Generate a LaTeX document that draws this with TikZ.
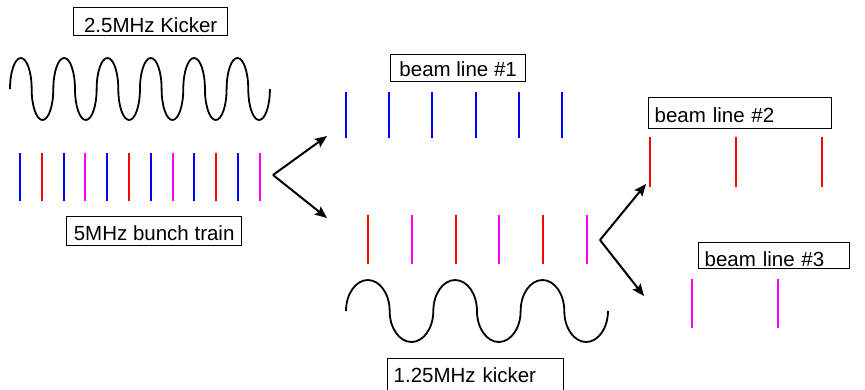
\documentclass[tikz,border=0pt]{standalone}
\usepackage{fontspec}
\setmainfont{Liberation Sans}
\usetikzlibrary{arrows.meta}

\definecolor{bunchB}{RGB}{0,0,255}
\definecolor{bunchR}{RGB}{255,0,0}
\definecolor{bunchM}{RGB}{255,0,255}

\begin{document}
\begin{tikzpicture}[
  x=1pt, y=-1pt,
  >={Stealth[length=12pt, width=10pt, inset=2pt]},
  every node/.style={font=\fontsize{20.5}{24}\selectfont},
  tag/.style={draw, line width=1.3pt, anchor=north west, inner ysep=0pt,
              text height=19pt, text depth=0pt},
  tagL/.style={tag, inner xsep=6pt, align=left, text width=#1},
  bunch/.style={line width=2pt},
  wave/.style={line width=1.8pt},
  kick/.style={->, line width=2pt},
]
\useasboundingbox (0,0) rectangle (865,389);

% labels
\node[tag, minimum width=154pt, minimum height=28pt, text height=22pt] (kickA) at (73,7) {2.5MHz Kicker};
\node[tag, minimum width=175pt, minimum height=29pt] (train) at (66,216) {5MHz bunch train};
\node[tag, minimum width=135pt, minimum height=27pt, text height=17pt] (line1) at (390,54) {beam line \#1};
\node[tagL=171pt, minimum height=31pt] (line2) at (648,97) {beam line \#2};
\node[tagL=139pt, minimum height=26pt, text height=22pt] (line3) at (698,242) {beam line \#3};
\node[tagL=164pt, minimum height=32pt, text height=16pt] (kickB) at (387,358) {1.25MHz kicker};

% kickers, built from half ellipses
\draw[wave] (10,89) \foreach \k in {1,...,6} {
  arc[start angle=180, end angle=0, x radius=10.83pt, y radius=31pt]
  arc[start angle=180, end angle=360, x radius=10.83pt, y radius=31pt] };
\draw[wave] (346,311) \foreach \k in {1,2,3} {
  arc[start angle=180, end angle=0, x radius=21.83pt, y radius=31pt]
  arc[start angle=180, end angle=360, x radius=21.83pt, y radius=31pt] };

% 5MHz train
\foreach \c [count=\i from 0] in {bunchB,bunchR,bunchB,bunchM,bunchB,bunchR,bunchB,bunchM,bunchB,bunchR,bunchB,bunchM}
  \draw[bunch, \c] ({20+21.8*\i},153) -- ++(0,48);

% beam line 1
\foreach \i in {0,...,5}
  \draw[bunch, bunchB] ({346+43.2*\i},92) -- ++(0,46);

% after first kicker
\foreach \c [count=\i from 0] in {bunchR,bunchM,bunchR,bunchM,bunchR,bunchM}
  \draw[bunch, \c] ({368+43.8*\i},215) -- ++(0,49);

% beam line 2 and 3
\foreach \i in {0,1,2}
  \draw[bunch, bunchR] ({650+86*\i},137) -- ++(0,50);
\foreach \i in {0,1}
  \draw[bunch, bunchM] ({692+86*\i},279) -- ++(0,49);

% splitting
\coordinate (fork1) at (273,175);
\coordinate (up1) at (327,136);
\coordinate (down1) at (327,218);
\coordinate (fork2) at (600,240);
\coordinate (up2) at (646,184);
\coordinate (down2) at (644,296);

\draw[kick] (fork1) -- (up1);
\draw[kick] (fork1) -- (down1);
\draw[kick] (fork2) -- (up2);
\draw[kick] (fork2) -- (down2);
\end{tikzpicture}
\end{document}
